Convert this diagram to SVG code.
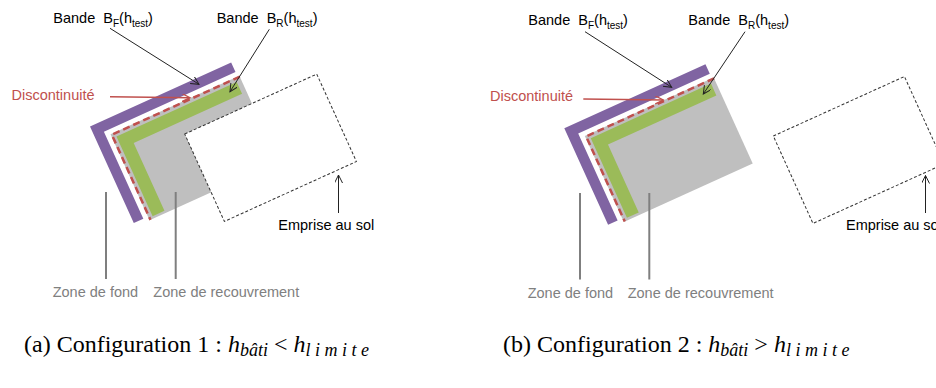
<svg xmlns="http://www.w3.org/2000/svg" width="936" height="388" viewBox="0 0 936 388">
<style>
.lbl{font-family:"Liberation Sans",Arial,sans-serif;font-size:14.5px;fill:#000;white-space:pre}
.red{fill:#c0504d}
.gry{fill:#808080}
.cap{font-family:"Liberation Serif","Times New Roman",serif;font-size:24px;fill:#000;white-space:pre}
.sub{font-style:italic;font-size:18px}
.purple{fill:#8064a2}
.green{fill:#9bbb59}
.gray{fill:#bfbfbf}
.disc{fill:none;stroke:#c0504d;stroke-width:2.5;stroke-dasharray:7 4}
.emp{fill:#fff;stroke:#333;stroke-width:1;stroke-dasharray:3 2}
.lk{fill:none;stroke:#222;stroke-width:1;marker-end:url(#ak)}
.lr{fill:none;stroke:#c0504d;stroke-width:1.5;marker-end:url(#ar)}
.lg{fill:none;stroke:#7f7f7f;stroke-width:2}
</style>
<defs>
<marker id="ak" markerWidth="10" markerHeight="10" refX="8" refY="4" orient="auto" markerUnits="userSpaceOnUse"><path d="M0,0 L8,4 L0,8" fill="none" stroke="#222" stroke-width="1"/></marker>
<marker id="ar" markerWidth="10" markerHeight="10" refX="8" refY="4" orient="auto" markerUnits="userSpaceOnUse"><path d="M0,0 L8,4 L0,8" fill="none" stroke="#c0504d" stroke-width="1.3"/></marker>
<g id="bldg">
<rect class="gray" x="15.5" y="15.5" width="141.5" height="94.5"/>
<path class="green" d="M20,20 H152 V33 H33 V107.5 H20 Z"/>
<path class="disc" d="M157,16.5 H16.5 V110"/>
<path class="purple" d="M0,0 H155 V10.5 H10.5 V106 H0 Z"/>
</g>
</defs>

<g id="panel-a">
<g id="a-building" transform="translate(90,126.5) rotate(-24.4)"><use href="#bldg"/></g>
<g id="a-emprise"><rect class="emp" transform="translate(184.7,134) rotate(-24.4)" x="0" y="0" width="145" height="96"/></g>
<g id="a-connectors">
<line class="lk" x1="110" y1="28.3" x2="199" y2="84.3"/>
<line class="lk" x1="269.3" y1="29.3" x2="230" y2="91.7"/>
<line class="lr" x1="110" y1="96.7" x2="190" y2="97.7"/>
<line class="lk" x1="338.5" y1="213" x2="338.5" y2="175"/>
<line class="lg" x1="106" y1="192" x2="106" y2="279"/>
<line class="lg" x1="175.7" y1="192" x2="175.7" y2="279"/>
</g>
<g id="a-label-bf"><text class="lbl" x="53.3" y="22.5">Bande  B<tspan font-size="10" dy="4">F</tspan><tspan dy="-4">(h</tspan><tspan font-size="10" dy="4">test</tspan><tspan dy="-4">)</tspan></text></g>
<g id="a-label-br"><text class="lbl" x="216.7" y="22.5">Bande  B<tspan font-size="10" dy="4">R</tspan><tspan dy="-4">(h</tspan><tspan font-size="10" dy="4">test</tspan><tspan dy="-4">)</tspan></text></g>
<g id="a-label-disc"><text class="lbl red" x="11.5" y="99.5">Discontinuité</text></g>
<g id="a-label-emprise"><text class="lbl" x="278.3" y="229.5">Emprise au sol</text></g>
<g id="a-label-fond"><text class="lbl gry" x="52.7" y="297">Zone de fond</text></g>
<g id="a-label-rec"><text class="lbl gry" x="153.3" y="297">Zone de recouvrement</text></g>
<g id="a-caption"><text class="cap" x="24" y="352">(a) Configuration 1 : <tspan font-style="italic">h</tspan><tspan class="sub" dy="4">bâti</tspan><tspan dy="-4"> &lt; </tspan><tspan font-style="italic">h</tspan><tspan class="sub" letter-spacing="4.5" dy="4">limite</tspan></text></g>
</g>

<g id="panel-b">
<g id="b-building" transform="translate(564.3,128.2) rotate(-24.4)"><use href="#bldg"/></g>
<g id="b-emprise"><rect class="emp" transform="translate(773.3,136) rotate(-24.4)" x="0" y="0" width="144" height="96"/></g>
<g id="b-connectors">
<line class="lk" x1="585" y1="31.7" x2="671.7" y2="87.3"/>
<line class="lk" x1="745" y1="31.7" x2="703.3" y2="94"/>
<line class="lr" x1="583.3" y1="99" x2="663.3" y2="100"/>
<line class="lk" x1="925.5" y1="213" x2="925.5" y2="175.5"/>
<line class="lg" x1="580" y1="193" x2="580" y2="279.5"/>
<line class="lg" x1="649.3" y1="193" x2="649.3" y2="279.5"/>
</g>
<g id="b-label-bf"><text class="lbl" x="528.3" y="24.5">Bande  B<tspan font-size="10" dy="4">F</tspan><tspan dy="-4">(h</tspan><tspan font-size="10" dy="4">test</tspan><tspan dy="-4">)</tspan></text></g>
<g id="b-label-br"><text class="lbl" x="688.3" y="24.5">Bande  B<tspan font-size="10" dy="4">R</tspan><tspan dy="-4">(h</tspan><tspan font-size="10" dy="4">test</tspan><tspan dy="-4">)</tspan></text></g>
<g id="b-label-disc"><text class="lbl red" x="490" y="101">Discontinuité</text></g>
<g id="b-label-emprise"><text class="lbl" x="846" y="230">Emprise au sol</text></g>
<g id="b-label-fond"><text class="lbl gry" x="527.7" y="297.5">Zone de fond</text></g>
<g id="b-label-rec"><text class="lbl gry" x="627.7" y="297.5">Zone de recouvrement</text></g>
<g id="b-caption"><text class="cap" x="503" y="352">(b) Configuration 2 : <tspan font-style="italic">h</tspan><tspan class="sub" dy="4">bâti</tspan><tspan dy="-4"> &gt; </tspan><tspan font-style="italic">h</tspan><tspan class="sub" letter-spacing="4.5" dy="4">limite</tspan></text></g>
</g>
</svg>
